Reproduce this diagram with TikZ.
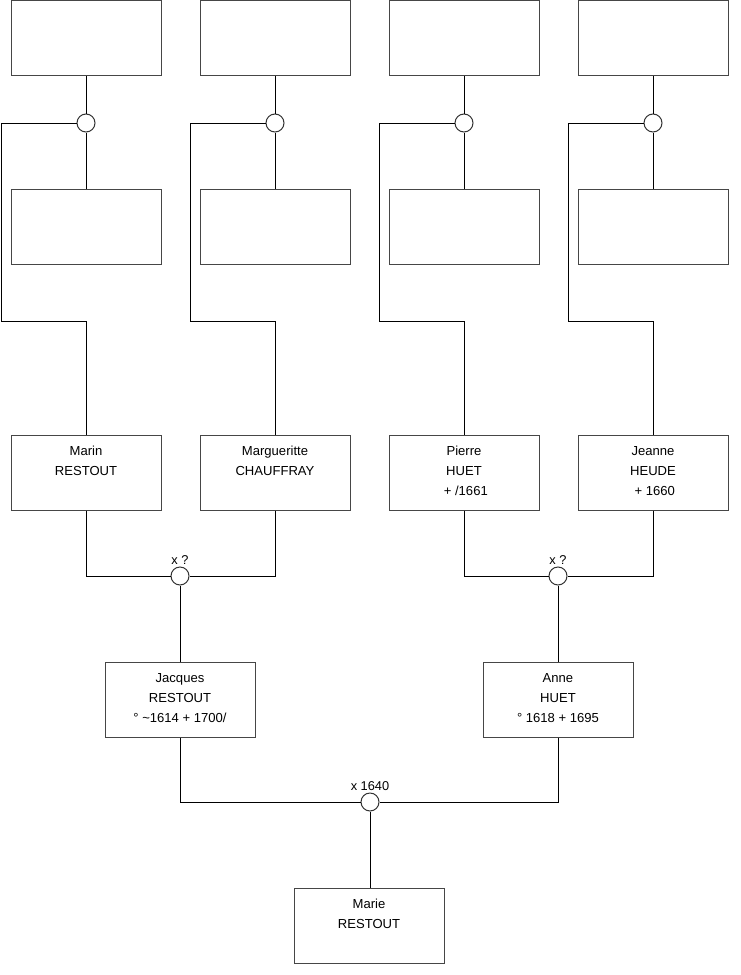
\documentclass[tikz,border=0pt]{standalone}
\usepackage{fontspec}
\setmainfont{Liberation Sans}
\definecolor{boxline}{RGB}{70,70,70}
\newcommand\lowpad{\rule[-3pt]{0pt}{3pt}}
\begin{document}
\begin{tikzpicture}[x=0.75pt,y=-0.75pt,
  pbox/.style={draw=boxline,line width=0.75pt,minimum width=112.5pt,minimum height=56.25pt,inner sep=0pt,align=center,font=\fontsize{9.8}{15}\selectfont},
  ring/.style={draw=black!80,line width=0.75pt,circle,minimum size=13.5pt,inner sep=0pt,fill=white},
  wlab/.style={font=\fontsize{9.6}{11}\selectfont,inner sep=1pt},
  conn/.style={draw=black,line width=0.75pt}]
\useasboundingbox (0,0) rectangle (740,975);
% top row
\node[pbox] (t1) at (86,38) {};
\node[pbox] (t2) at (275,38) {};
\node[pbox] (t3) at (464,38) {};
\node[pbox] (t4) at (653,38) {};
% second row
\node[pbox] (s1) at (86,227) {};
\node[pbox] (s2) at (275,227) {};
\node[pbox] (s3) at (464,227) {};
\node[pbox] (s4) at (653,227) {};
% rings
\node[ring] (c1) at (86,123) {};
\node[ring] (c2) at (275,123) {};
\node[ring] (c3) at (464,123) {};
\node[ring] (c4) at (653,123) {};
% grandparents
\node[pbox] (p1) at (86,472.5) {Marin\\RESTOUT\\ \lowpad};
\node[pbox] (p2) at (275,472.5) {Margueritte\\CHAUFFRAY\\ \lowpad};
\node[pbox] (p3) at (464,472.5) {Pierre\\HUET\\ \ + /1661\lowpad};
\node[pbox] (p4) at (653,472.5) {Jeanne\\HEUDE\\ \ + 1660\lowpad};
% marriages
\node[ring,label={[wlab]above:x ?}] (w1) at (180,576) {};
\node[ring,label={[wlab]above:x ?}] (w2) at (558,576) {};
% parents
\node[pbox] (j) at (180,699.5) {Jacques\\RESTOUT\\° \textasciitilde1614 + 1700/\lowpad};
\node[pbox] (a) at (558,699.5) {Anne\\HUET\\° 1618 + 1695\lowpad};
\node[ring,label={[wlab]above:x 1640}] (w3) at (370,802) {};
\node[pbox] (m) at (369,925.5) {Marie\\RESTOUT\\ \lowpad};
% side coordinates
\coordinate (b1) at (1,321);
\coordinate (b2) at (190,321);
\coordinate (b3) at (379,321);
\coordinate (b4) at (568,321);
% connectors
\foreach \i in {1,2,3,4}{
  \draw[conn] (t\i.south) -- (c\i.north);
  \draw[conn] (c\i.south) -- (s\i.north);
  \draw[conn] (c\i.west) -| (b\i) -- (b\i -| p\i.north) -- (p\i.north);
}
\draw[conn] (p1.south) |- (w1.west);
\draw[conn] (p2.south) |- (w1.east);
\draw[conn] (p3.south) |- (w2.west);
\draw[conn] (p4.south) |- (w2.east);
\draw[conn] (w1.south) -- (j.north);
\draw[conn] (w2.south) -- (a.north);
\draw[conn] (j.south) |- (w3.west);
\draw[conn] (a.south) |- (w3.east);
\draw[conn] (w3.south) -- (w3.south |- m.north);
\end{tikzpicture}
\end{document}
